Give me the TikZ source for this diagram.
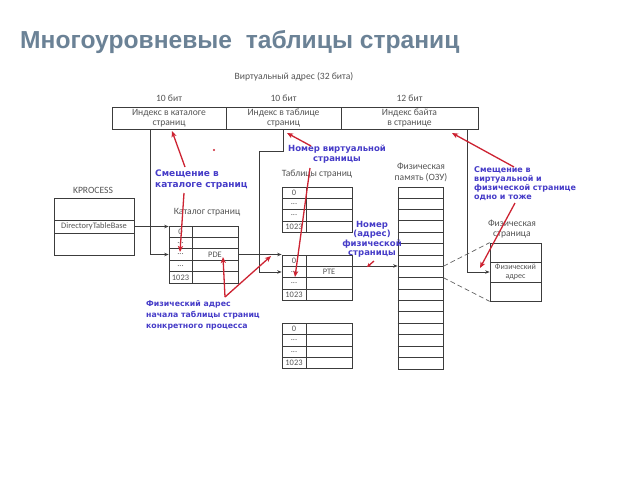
\documentclass[tikz,border=0pt]{standalone}
\usepackage{fontspec}
\setmainfont{Carlito}
\newfontfamily\titlefont{Liberation Sans}
\newfontfamily\notefont{DejaVu Sans}
\usetikzlibrary{arrows.meta}
\definecolor{titlecol}{RGB}{107,130,150}
\definecolor{graytext}{RGB}{85,85,85}
\definecolor{lineg}{RGB}{60,60,60}
\definecolor{notecol}{RGB}{70,60,200}
\definecolor{redarr}{RGB}{205,35,50}
\newcommand\dts{...}
\begin{document}
\begin{tikzpicture}[x=1pt,y=-1pt,
  gline/.style={draw=lineg, line width=0.7pt},
  garrow/.style={gline, -{Stealth[length=4.5pt,width=3.5pt]}},
  dline/.style={gline, draw=lineg!80, dash pattern=on 5pt off 3pt},
  rarrow/.style={draw=redarr, line width=1.3pt, -{Stealth[length=6pt,width=5pt,inset=1.5pt]}},
  gtext/.style={text=graytext, font=\fontsize{9.6}{10.3}\selectfont, align=center, inner sep=0pt},
  ctext/.style={text=graytext, font=\fontsize{8.4}{9}\selectfont, inner sep=0pt},
  field/.style={draw=lineg, line width=0.7pt, minimum height=22pt, inner sep=0pt, gtext},
  cell/.style={draw=lineg, line width=0.7pt, inner sep=0pt, ctext},
  note/.style={text=notecol, inner sep=0pt},
  ]
\useasboundingbox (0,0) rectangle (640,480);
\fill[white] (0,0) rectangle (640,480);

% title
\node[anchor=base west, inner sep=0pt, text=titlecol, font=\titlefont\bfseries\fontsize{24.6}{28}\selectfont] (title) at (20,48) {Многоуровневые\ \ таблицы страниц};

% virtual address
\node[gtext] (valab) at (294,77) {Виртуальный адрес (32 бита)};
\node[gtext] (b1) at (169,98) {10 бит};
\node[gtext] (b2) at (283.5,98) {10 бит};
\node[gtext] (b3) at (409.5,98) {12 бит};
\node[field, minimum width=114pt] (va1) at (169,118) {Индекс в каталоге\\страниц};
\node[field, minimum width=115pt] (va2) at (283.5,118) {Индекс в таблице\\страниц};
\node[field, minimum width=137pt] (va3) at (409.5,118) {Индекс байта\\в странице};

% KPROCESS
\node[gtext] (kplab) at (93,190) {KPROCESS};
\node[cell, minimum width=80pt, minimum height=22pt] (kp1) at (94,209) {};
\node[cell, minimum width=80pt, minimum height=13pt] (kpd) at (94,226.5) {DirectoryTableBase};
\node[cell, minimum width=80pt, minimum height=22pt] (kp3) at (94,244) {};

% catalog
\node[gtext] (catlab) at (207,212) {Каталог страниц};
\foreach \k/\t/\r in {1/0/{},2/\dts/{},3/\dts/PDE,4/\dts/{},5/1023/{}} {
  \node[cell, minimum width=23pt, minimum height=11.4pt] (cat\k) at (180.5,{220.3+11.4*\k}) {\t};
  \node[cell, minimum width=46pt, minimum height=11.4pt] (catr\k) at (215,{220.3+11.4*\k}) {\r};
}

% page tables
\node[gtext] (ptlab) at (317,174) {Таблицы страниц};
\foreach \p/\top in {1/187,2/255,3/323.5} {
  \foreach \k/\t in {1/0,2/\dts,3/\dts,4/1023} {
    \node[cell, minimum width=24pt, minimum height=11.3pt] (pt\p c\k) at (294,{\top-5.65+11.3*\k}) {\t};
    \node[cell, minimum width=46pt, minimum height=11.3pt] (pt\p r\k) at (329,{\top-5.65+11.3*\k}) {};
  }
}
\node[ctext] (pte) at (pt2r2) {PTE};

% physical memory
\node[gtext] (memlab) at (421,172.5) {Физическая\\память (ОЗУ)};
\node[draw=lineg, line width=0.7pt, minimum width=45pt, minimum height=182pt, inner sep=0pt] (mem) at (420.5,278) {};
\foreach \k in {1,...,15} {
  \draw[gline] ([yshift={-11.375pt*\k}]mem.north west) -- ([yshift={-11.375pt*\k}]mem.north east);
}

% physical page
\node[gtext] (pplab) at (512,229) {Физическая\\страница};
\node[cell, minimum width=51pt, minimum height=19pt] (pp1) at (515.5,252.5) {};
\node[cell, gtext, font=\fontsize{8}{9}\selectfont, minimum width=51pt, minimum height=20pt] (pp2) at (515.5,272) {Физический\\адрес};
\node[cell, minimum width=51pt, minimum height=19pt] (pp3) at (515.5,291.5) {};

% gray connectors
\draw[garrow] ([xshift=-19pt]va1.south) |- (cat3.west);
\draw[garrow] (kpd.east) -- (kpd.east -| cat1.west);
\draw[garrow] (catr3.east) -- (catr3.east -| pt2c1.north west);
\draw[garrow] (va2.south) |- ++(-24,22) |- (pt2c2.west);
\draw[garrow] (pt2r2.north east) -- (pt2r2.north east -| mem.west);
\draw[garrow] ([xshift=57.5pt]va3.south) |- (pp2.west);
\draw[dline] ([yshift=-79.6pt]mem.north east) -- (pp1.north west);
\draw[dline] ([yshift=-91pt]mem.north east) -- (pp3.south west);

% blue notes
\node[note, anchor=north west, align=left, font=\notefont\bfseries\fontsize{9}{11}\selectfont] (n1) at (155,170) {Смещение в\\каталоге страниц};
\node[note, align=center, font=\notefont\bfseries\fontsize{8.5}{10}\selectfont] (n2) at (337,154) {Номер виртуальной\\страницы};
\node[note, align=center, font=\notefont\bfseries\fontsize{8.5}{9.5}\selectfont] (n3) at (372,239.5) {Номер\\(адрес)\\физической\\страницы};
\node[note, anchor=north west, align=left, font=\notefont\bfseries\fontsize{8}{8.8}\selectfont] (n4) at (474,166.5) {Смещение в\\виртуальной и\\физической странице\\одно и тоже};
\node[note, anchor=north west, align=left, font=\notefont\bfseries\fontsize{7.8}{11}\selectfont] (n5) at (146,300) {Физический адрес\\начала таблицы страниц\\конкретного процесса};

% red arrows
\coordinate (ra1) at (185,167); \coordinate (ha1) at (172,131);
\coordinate (ra2) at (184,193); \coordinate (ha2) at (180,252);
\coordinate (ra3) at (311,146); \coordinate (ha3) at (287,133);
\coordinate (ra4) at (310,168); \coordinate (ha4) at (295,277);
\coordinate (ra5) at (225,297); \coordinate (ha5) at (223,257); \coordinate (hb5) at (271,256);
\coordinate (ra6) at (374,261); \coordinate (ha6) at (367,267);
\coordinate (ra7) at (514,167); \coordinate (ha7) at (452,133);
\coordinate (ra8) at (515,203); \coordinate (ha8) at (480,268);
\draw[rarrow] (ra1) -- (ha1);
\draw[rarrow] (ra2) -- (ha2);
\draw[rarrow] (ra3) -- (ha3);
\draw[rarrow] (ra4) -- (ha4);
\draw[rarrow] (ra5) -- (ha5);
\draw[rarrow] (ra5) -- (hb5);
\draw[rarrow, -{Stealth[length=4pt,width=4pt]}] (ra6) -- (ha6);
\draw[rarrow] (ra7) -- (ha7);
\draw[rarrow] (ra8) -- (ha8);
\fill[redarr] (214,150) circle (1.1pt);
\end{tikzpicture}
\end{document}
